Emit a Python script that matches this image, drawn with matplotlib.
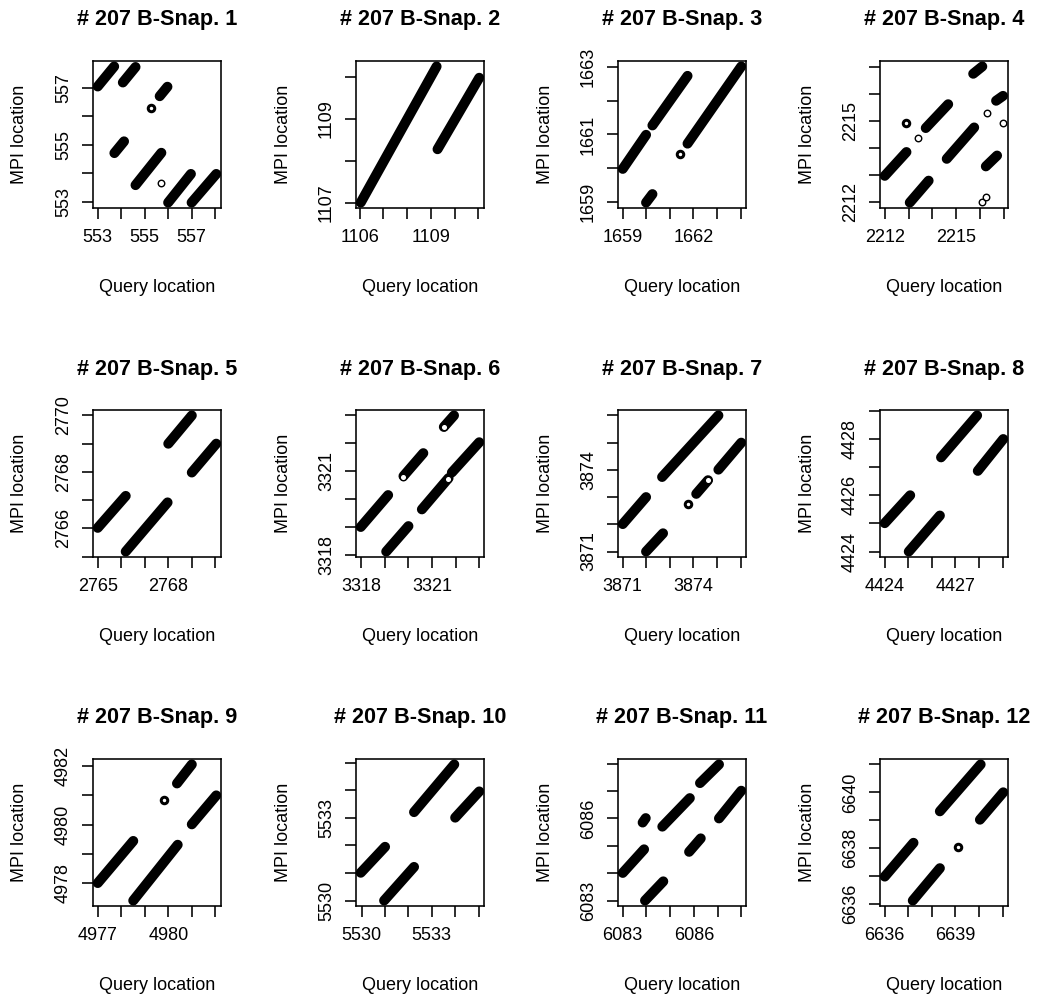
import math
import matplotlib
matplotlib.use('Agg')
import matplotlib.pyplot as plt

plt.rcParams['font.family'] = ['Liberation Sans', 'DejaVu Sans']

W, H, DPI = 1039, 997, 100

# streaks: (query start, MPI start, query end, MPI end)
# rings: single open circles, blobs: a few open circles on top of each other
snap1_streaks = [(553.00, 557.04, 553.70, 557.74), (554.07, 557.18, 554.61, 557.72),
                 (553.71, 554.71, 554.12, 555.12), (554.61, 553.59, 555.71, 554.72),
                 (555.64, 556.70, 555.97, 557.03), (556.00, 552.98, 556.97, 553.98),
                 (557.00, 552.98, 558.05, 553.98)]
snap1_rings = [(555.69, 553.66)]
snap1_blobs = [(555.28, 556.29)]
snap1_xlab = [553, 555, 557]
snap1_ylab = [553, 555, 557]

snap2_streaks = [(1106.04, 1107.00, 1109.24, 1110.24), (1109.28, 1108.27, 1111.04, 1109.97)]
snap2_rings = []
snap2_blobs = []
snap2_xlab = [1106, 1109]
snap2_ylab = [1107, 1109]

snap3_streaks = [(1659.00, 1659.98, 1659.99, 1660.99), (1660.26, 1661.27, 1661.75, 1662.74),
                 (1659.99, 1658.98, 1660.26, 1659.23), (1661.75, 1660.73, 1664.03, 1663.02)]
snap3_rings = []
snap3_blobs = [(1661.45, 1660.43)]
snap3_xlab = [1659, 1662]
snap3_ylab = [1659, 1661, 1663]

snap4_streaks = [(2212.00, 2212.97, 2212.91, 2213.85), (2213.05, 2211.98, 2213.84, 2212.79),
                 (2213.72, 2214.74, 2214.66, 2215.62), (2214.60, 2213.60, 2215.75, 2214.76),
                 (2215.71, 2216.75, 2216.09, 2217.02), (2216.24, 2213.32, 2216.71, 2213.72),
                 (2216.67, 2215.75, 2216.96, 2215.93)]
snap4_rings = [(2213.38, 2214.38), (2216.28, 2215.28), (2216.97, 2214.91),
               (2216.07, 2212.00), (2216.24, 2212.20)]
snap4_blobs = [(2212.91, 2214.91)]
snap4_xlab = [2212, 2215]
snap4_ylab = [2212, 2215]

snap5_streaks = [(2765.00, 2766.02, 2766.19, 2767.15), (2766.19, 2765.18, 2767.97, 2766.92),
                 (2768.00, 2769.00, 2769.00, 2770.00), (2769.00, 2767.98, 2770.04, 2769.00)]
snap5_rings = []
snap5_blobs = []
snap5_xlab = [2765, 2768]
snap5_ylab = [2766, 2768, 2770]

snap6_streaks = [(3317.98, 3319.00, 3319.14, 3320.14), (3319.06, 3318.12, 3320.00, 3319.03),
                 (3319.79, 3320.82, 3320.63, 3321.64), (3320.57, 3319.63, 3321.70, 3320.75),
                 (3321.84, 3320.95, 3323.00, 3322.03), (3321.50, 3322.58, 3321.93, 3322.99)]
snap6_rings = [(3319.79, 3320.80), (3321.67, 3320.72), (3321.50, 3322.58)]
snap6_blobs = []
snap6_xlab = [3318, 3321]
snap6_ylab = [3318, 3321]

snap7_streaks = [(3871.00, 3872.01, 3871.99, 3873.00), (3871.99, 3871.00, 3872.71, 3871.67),
                 (3872.67, 3873.74, 3875.06, 3876.00), (3874.12, 3873.12, 3874.62, 3873.62),
                 (3875.06, 3874.01, 3876.03, 3875.00)]
snap7_rings = [(3874.62, 3873.62)]
snap7_blobs = [(3873.78, 3872.75)]
snap7_xlab = [3871, 3874]
snap7_ylab = [3871, 3874]

snap8_streaks = [(4424.00, 4425.01, 4425.08, 4426.00), (4425.02, 4424.00, 4426.34, 4425.28),
                 (4426.39, 4427.35, 4427.92, 4428.84), (4427.95, 4426.87, 4429.03, 4428.00)]
snap8_rings = []
snap8_blobs = []
snap8_xlab = [4424, 4427]
snap8_ylab = [4424, 4426, 4428]

snap9_streaks = [(4977.00, 4978.00, 4978.51, 4979.44), (4978.51, 4977.40, 4980.40, 4979.31),
                 (4980.37, 4981.41, 4981.00, 4982.06), (4981.00, 4980.01, 4982.04, 4981.00)]
snap9_rings = []
snap9_blobs = [(4979.80, 4980.84)]
snap9_xlab = [4977, 4980]
snap9_ylab = [4978, 4980, 4982]

snap10_streaks = [(5529.96, 5531.01, 5531.00, 5531.95), (5530.96, 5530.00, 5532.24, 5531.22),
                  (5532.24, 5533.21, 5533.96, 5534.94), (5534.00, 5533.01, 5535.03, 5533.96)]
snap10_rings = []
snap10_blobs = []
snap10_xlab = [5530, 5533]
snap10_ylab = [5530, 5533]

snap11_streaks = [(6083.00, 6084.01, 6083.90, 6084.87), (6083.94, 6083.00, 6084.71, 6083.70),
                  (6083.84, 6085.85, 6083.97, 6086.01), (6084.67, 6085.70, 6085.83, 6086.74),
                  (6085.80, 6084.78, 6086.29, 6085.27), (6086.26, 6087.29, 6087.06, 6087.97),
                  (6087.06, 6086.00, 6088.00, 6087.01)]
snap11_rings = []
snap11_blobs = []
snap11_xlab = [6083, 6086]
snap11_ylab = [6083, 6086]

snap12_streaks = [(6636.00, 6636.98, 6637.22, 6638.19), (6637.19, 6636.12, 6638.34, 6637.28),
                  (6638.34, 6639.32, 6640.07, 6641.00), (6640.04, 6639.02, 6641.03, 6640.00)]
snap12_rings = []
snap12_blobs = [(6639.10, 6638.05)]
snap12_xlab = [6636, 6639]
snap12_ylab = [6636, 6638, 6640]

panels = [
    (snap1_streaks, snap1_rings, snap1_blobs, snap1_xlab, snap1_ylab),
    (snap2_streaks, snap2_rings, snap2_blobs, snap2_xlab, snap2_ylab),
    (snap3_streaks, snap3_rings, snap3_blobs, snap3_xlab, snap3_ylab),
    (snap4_streaks, snap4_rings, snap4_blobs, snap4_xlab, snap4_ylab),
    (snap5_streaks, snap5_rings, snap5_blobs, snap5_xlab, snap5_ylab),
    (snap6_streaks, snap6_rings, snap6_blobs, snap6_xlab, snap6_ylab),
    (snap7_streaks, snap7_rings, snap7_blobs, snap7_xlab, snap7_ylab),
    (snap8_streaks, snap8_rings, snap8_blobs, snap8_xlab, snap8_ylab),
    (snap9_streaks, snap9_rings, snap9_blobs, snap9_xlab, snap9_ylab),
    (snap10_streaks, snap10_rings, snap10_blobs, snap10_xlab, snap10_ylab),
    (snap11_streaks, snap11_rings, snap11_blobs, snap11_xlab, snap11_ylab),
    (snap12_streaks, snap12_rings, snap12_blobs, snap12_xlab, snap12_ylab),
]


def pt(v):
    # pixels -> points
    return v * 72.0 / DPI


def r_limits(vals):
    # R style: 4% padding on each side
    lo, hi = min(vals), max(vals)
    pad = 0.04 * (hi - lo)
    return lo - pad, hi + pad


fig = plt.figure(figsize=(W / DPI, H / DPI), dpi=DPI)
col_left = [93, 356, 618, 880]
row_top = [61, 410, 759]
bw, bh = 128, 147

for i, (streaks, rings, blobs, xlab, ylab) in enumerate(panels):
    r, c = divmod(i, 4)
    left, top = col_left[c], row_top[r]
    ax = fig.add_axes([left / W, 1 - (top + bh) / H, bw / W, bh / H])

    for x0, y0, x1, y1 in streaks:
        ax.plot([x0, x1], [y0, y1], color='black', lw=pt(10), solid_capstyle='round', zorder=2)
    for x, y in rings:
        ax.plot(x, y, 'o', ms=pt(6.5), mfc='white', mec='black', mew=pt(1.4), zorder=3)
    for x, y in blobs:
        ax.plot(x, y, 'o', ms=pt(6.5), mfc='white', mec='black', mew=pt(3.0), zorder=3)

    xs = [v for s in streaks for v in (s[0], s[2])] + [p[0] for p in rings + blobs]
    ys = [v for s in streaks for v in (s[1], s[3])] + [p[1] for p in rings + blobs]
    xlim = r_limits(xs)
    ylim = r_limits(ys)
    ax.set_xlim(*xlim)
    ax.set_ylim(*ylim)

    xt = list(range(math.ceil(xlim[0]), math.floor(xlim[1]) + 1))
    yt = list(range(math.ceil(ylim[0]), math.floor(ylim[1]) + 1))
    ax.set_xticks(xt)
    ax.set_xticklabels([str(t) if t in xlab else '' for t in xt])
    ax.set_yticks(yt)
    ax.set_yticklabels([str(t) if t in ylab else '' for t in yt])

    ax.tick_params(direction='out', length=pt(11), width=pt(1.6), pad=pt(10),
                   labelsize=pt(18), colors='black')
    ax.tick_params(axis='y', labelrotation=90)
    for lbl in ax.get_yticklabels():
        lbl.set_va('center')
    for sp in ax.spines.values():
        sp.set_linewidth(pt(1.6))

    ax.text(0.5, 1 + 41 / bh, f'# 207 B-Snap. {i + 1}', transform=ax.transAxes,
            ha='center', va='center', fontsize=pt(21.6), fontweight='bold')
    ax.text(0.5, -79 / bh, 'Query location', transform=ax.transAxes,
            ha='center', va='center', fontsize=pt(18))
    ax.text(-73 / bw, 0.5, 'MPI location', transform=ax.transAxes, rotation=90,
            ha='center', va='center', fontsize=pt(18))

fig.savefig('out.png', dpi=DPI)
